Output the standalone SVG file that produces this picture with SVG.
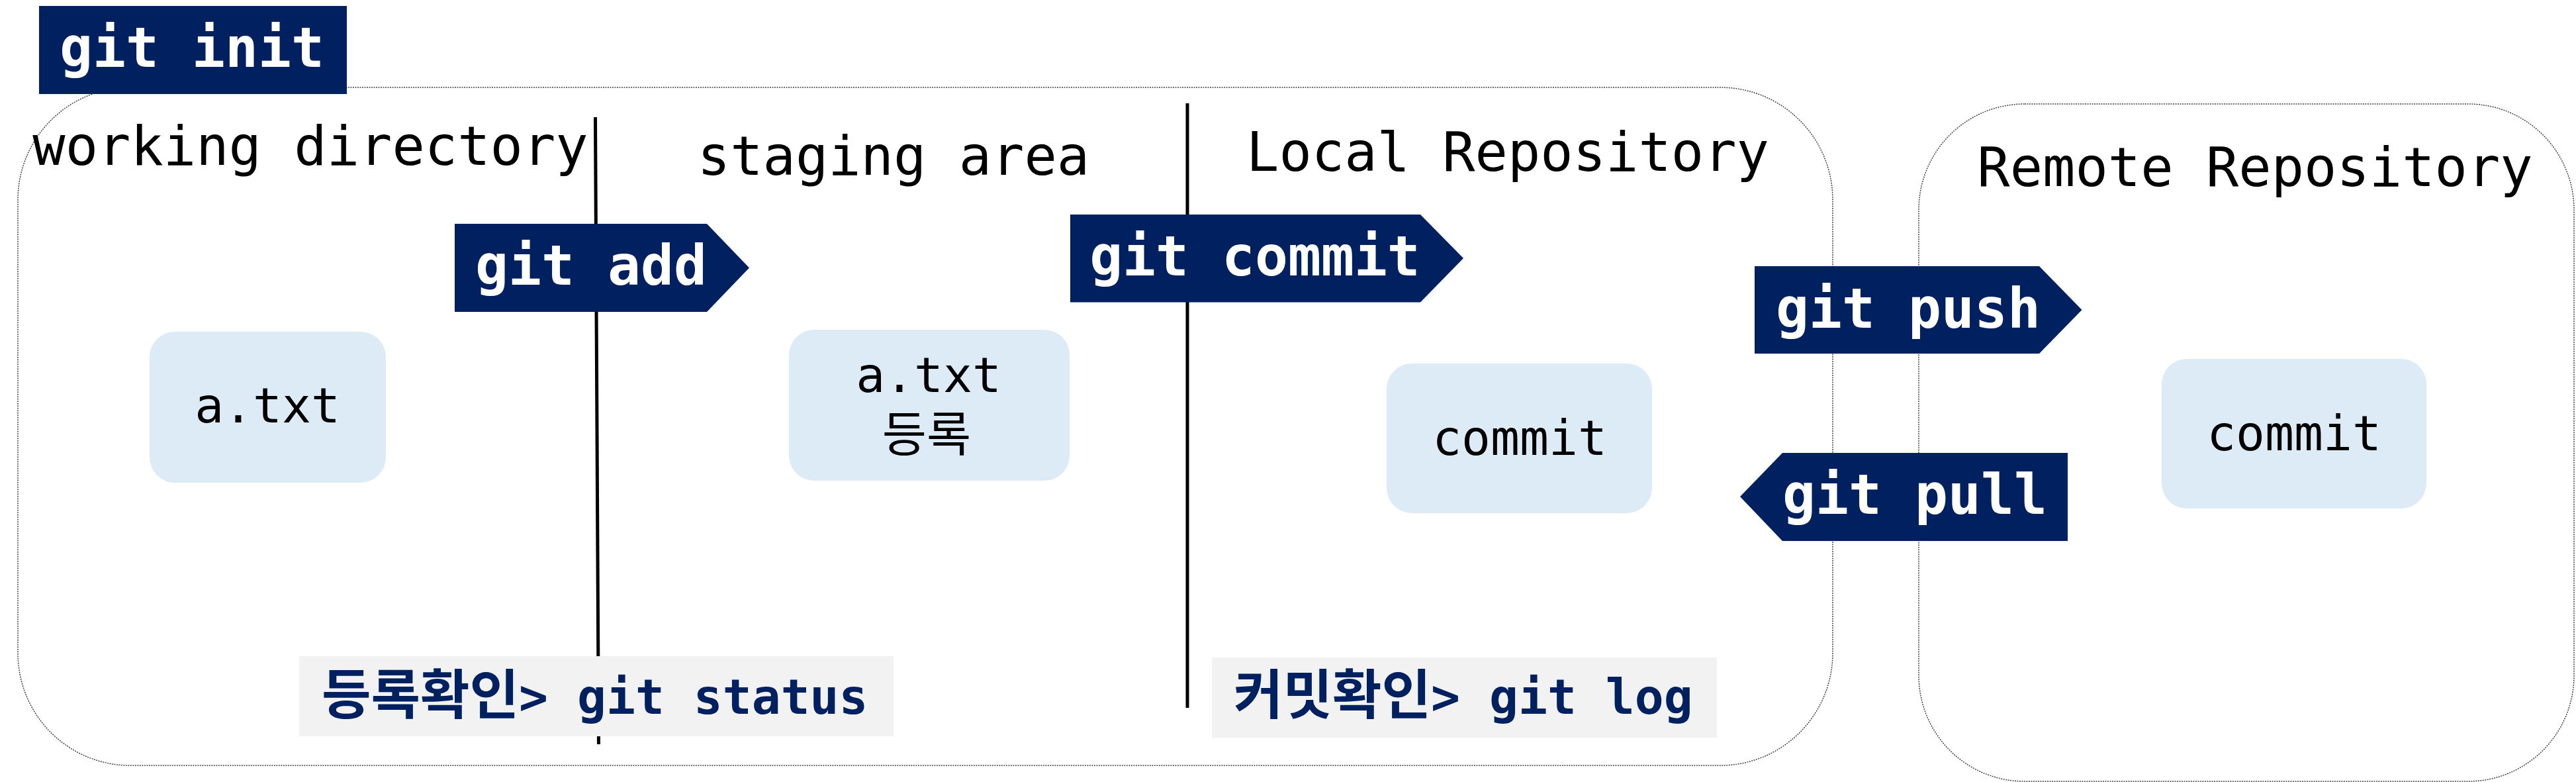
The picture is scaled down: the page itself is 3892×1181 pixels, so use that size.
<svg xmlns="http://www.w3.org/2000/svg" width="3892" height="1181" viewBox="0 0 3892 1181">
<style>
.area{fill:#ffffff;stroke:#444444;stroke-width:1.5;stroke-dasharray:2 1.5}
.title{font-family:"DejaVu Sans Mono","Noto Sans CJK KR",monospace;font-size:82px;fill:#000000;text-anchor:middle}
.node{fill:#DDEBF7}
.ntext{font-family:"DejaVu Sans Mono","Noto Sans CJK KR",monospace;font-size:73px;fill:#000000;text-anchor:middle}
.cmd{fill:#002060}
.ctext{font-family:"DejaVu Sans Mono","Noto Sans CJK KR",monospace;font-size:83px;font-weight:bold;fill:#ffffff;text-anchor:middle}
.lbl{fill:#F2F2F2}
.ltext{font-family:"DejaVu Sans Mono","Noto Sans CJK KR",monospace;font-size:73px;font-weight:bold;fill:#002060}
.ko{font-size:81px}
.div{stroke:#000000;stroke-width:5;fill:none}
</style>
<rect width="3892" height="1181" fill="#ffffff"/>
<g id="local-area">
<rect class="area" x="27" y="132" width="2742" height="1024" rx="170" ry="170"/>
<text class="title" x="469" y="249">working directory</text>
<text class="title" x="1350" y="264">staging area</text>
<text class="title" x="2278" y="258">Local Repository</text>
</g>
<g id="remote-area">
<rect class="area" x="2899" y="157" width="990" height="1023" rx="160" ry="160"/>
<text class="title" x="3407" y="281">Remote Repository</text>
</g>
<g id="dividers">
<line class="div" x1="899.5" y1="177" x2="904.5" y2="1124"/>
<line class="div" x1="1794" y1="156" x2="1794" y2="1069"/>
</g>
<g id="node-working-file">
<rect class="node" x="226" y="501" width="357" height="228" rx="38"/>
<text class="ntext" x="404" y="638">a.txt</text>
</g>
<g id="node-staged-file">
<rect class="node" x="1192" y="498" width="424" height="228" rx="38"/>
<text class="ntext" x="1403" y="592">a.txt</text>
<text class="ntext" x="1400" y="682">등록</text>
</g>
<g id="node-local-commit">
<rect class="node" x="2095" y="549" width="401" height="226" rx="38"/>
<text class="ntext" x="2296" y="687">commit</text>
</g>
<g id="node-remote-commit">
<rect class="node" x="3266" y="542" width="400" height="226" rx="38"/>
<text class="ntext" x="3466" y="680">commit</text>
</g>
<g id="connectors">
<g id="cmd-add">
<polygon class="cmd" points="687,338 1068,338 1132,404.5 1068,471 687,471"/>
<text class="ctext" x="893" y="430">git add</text>
</g>
<g id="cmd-commit">
<polygon class="cmd" points="1617,324 2146,324 2211,390 2146,456.5 1617,456.5"/>
<text class="ctext" x="1896" y="416">git commit</text>
</g>
<g id="cmd-push">
<polygon class="cmd" points="2651,402 3081,402 3145.5,468 3081,534 2651,534"/>
<text class="ctext" x="2883" y="495">git push</text>
</g>
<g id="cmd-pull">
<polygon class="cmd" points="2629,750 2693,684 3124,684 3124,817 2693,817"/>
<text class="ctext" x="2893" y="776">git pull</text>
</g>
</g>
<g id="label-status">
<rect class="lbl" x="452" y="991" width="898" height="121"/>
<text class="ltext" x="486" y="1078"><tspan class="ko">등록확인</tspan>&gt; git status</text>
</g>
<g id="label-log">
<rect class="lbl" x="1831" y="993" width="763" height="121"/>
<text class="ltext" x="1864" y="1078"><tspan class="ko">커밋확인</tspan>&gt; git log</text>
</g>
<g id="cmd-init">
<rect class="cmd" x="59" y="9" width="465" height="133"/>
<text class="ctext" x="290" y="101">git init</text>
</g>
</svg>
